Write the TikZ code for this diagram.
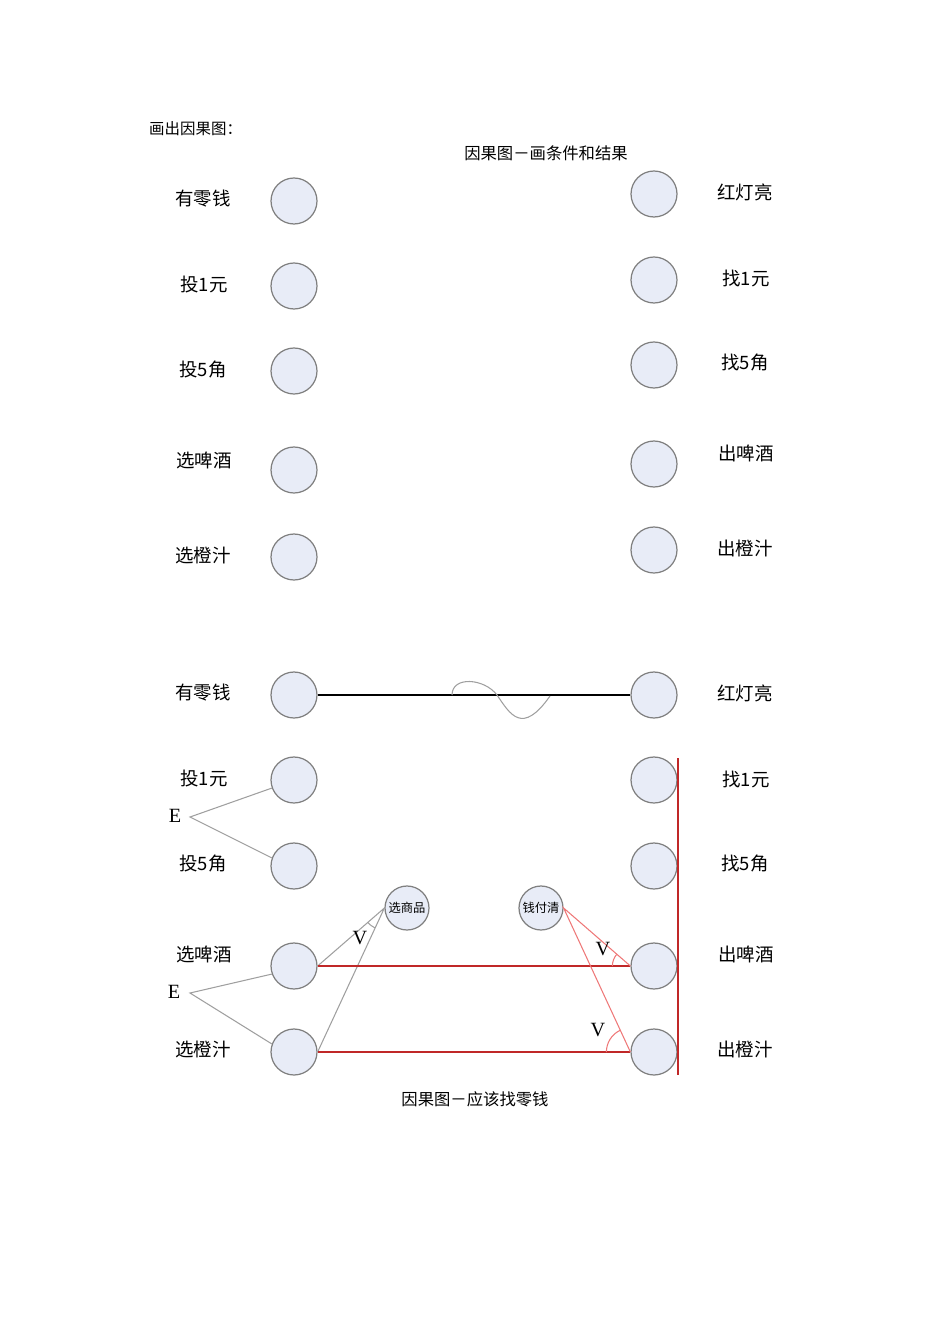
\documentclass[tikz,border=0pt]{standalone}
\usepackage{fontspec}
\setmainfont{Liberation Serif}
\newfontfamily\cjk{Noto Sans CJK SC}
\usetikzlibrary{positioning}
\usetikzlibrary{calc}

\definecolor{circfill}{RGB}{232,236,247}
\definecolor{circline}{RGB}{128,128,128}
\definecolor{darkred}{RGB}{192,40,40}
\definecolor{lightred}{RGB}{238,120,120}

\tikzset{
  cnode/.style={circle,draw=circline,fill=circfill,line width=0.7pt,minimum size=0.92cm,inner sep=0pt},
  snode/.style={circle,draw=circline,fill=circfill,line width=0.7pt,minimum size=0.88cm,inner sep=0pt,font=\cjk\fontsize{7}{8}\selectfont},
  lbl/.style={font=\cjk\fontsize{10.5}{12}\selectfont},
  captext/.style={font=\cjk\fontsize{9.3}{11}\selectfont},
  sym/.style={font=\fontsize{11.5}{13}\selectfont},
  grayline/.style={draw=gray!75,line width=0.6pt},
}

\begin{document}
\begin{tikzpicture}[x=0.02cm,y=0.02cm]
\useasboundingbox (0,0) rectangle (950,-1344);

\node[font=\cjk\fontsize{8.8}{10}\selectfont,anchor=west] (title) at (143,-129) {画出因果图：};
\node[captext] (cap1) at (546,-153) {因果图－画条件和结果};

% upper picture: causes and effects only
\node[cnode] (a1) at (294,-201) {};
\node[cnode] (a2) at (294,-286) {};
\node[cnode] (a3) at (294,-371) {};
\node[cnode] (a4) at (294,-470) {};
\node[cnode] (a5) at (294,-557) {};
\node[lbl] at (203,-199) {有零钱};
\node[lbl] at (204,-285) {投1元};
\node[lbl] at (203,-370) {投5角};
\node[lbl] at (204,-460) {选啤酒};
\node[lbl] at (203,-555) {选橙汁};

\node[cnode] (b1) at (654,-194) {};
\node[cnode] (b2) at (654,-280) {};
\node[cnode] (b3) at (654,-365) {};
\node[cnode] (b4) at (654,-464) {};
\node[cnode] (b5) at (654,-550) {};
\node[lbl] at (745,-192) {红灯亮};
\node[lbl] at (746,-278) {找1元};
\node[lbl] at (745,-363) {找5角};
\node[lbl] at (746,-453) {出啤酒};
\node[lbl] at (745,-548) {出橙汁};

% lower picture: with relations
\node[cnode] (c1) at (294,-695) {};
\node[cnode] (c2) at (294,-780) {};
\node[cnode] (c3) at (294,-866) {};
\node[cnode] (c4) at (294,-966) {};
\node[cnode] (c5) at (294,-1052) {};
\node[lbl] at (203,-693) {有零钱};
\node[lbl] at (204,-779) {投1元};
\node[lbl] at (203,-864) {投5角};
\node[lbl] at (204,-954) {选啤酒};
\node[lbl] at (203,-1049) {选橙汁};

\node[cnode] (e1) at (654,-695) {};
\node[cnode] (e2) at (654,-780) {};
\node[cnode] (e3) at (654,-866) {};
\node[cnode] (e4) at (654,-966) {};
\node[cnode] (e5) at (654,-1052) {};
\node[lbl] at (745,-693) {红灯亮};
\node[lbl] at (746,-779) {找1元};
\node[lbl] at (745,-864) {找5角};
\node[lbl] at (746,-954) {出啤酒};
\node[lbl] at (745,-1049) {出橙汁};

\node[snode] (mid1) at (407,-908) {选商品};
\node[snode] (mid2) at (541,-908) {钱付清};

% identity with the wave
\draw[line width=0.6pt] (c1) -- (e1);
\draw[grayline] (452,-695) .. controls (452,-676) and (484,-678) .. (497,-695)
  .. controls (510,-714) and (522,-736) .. (550,-696);

% E constraints
\coordinate (ex1) at (190,-817);
\coordinate (ex2) at (190,-993);
\node[sym] at (175,-816) {E};
\node[sym] at (174,-992) {E};
\draw[grayline] (c2.200) -- (ex1) -- (c3.160);
\draw[grayline] (c4.200) -- (ex2) -- (c5.160);

% or into the middle node
\draw[grayline] (c4.east) -- (mid1.west) -- (c5.east);
\draw[grayline] ([shift={(220:22)}]mid1.west) arc (220:244:22);
\node[sym] at (360,-938) {V};

% effects
\draw[darkred,line width=0.7pt] (c4.east) -- (e4.west);
\draw[darkred,line width=0.7pt] (c5.east) -- (e5.west);
\draw[lightred,line width=0.6pt] (e4.west) -- (mid2.east) -- (e5.west);
\draw[lightred,line width=0.6pt] ([shift={(140:18)}]e4.west) arc (140:180:18);
\draw[lightred,line width=0.6pt] ([shift={(116:24)}]e5.west) arc (116:180:24);
\node[sym] at (603,-949) {V};
\node[sym] at (598,-1030) {V};

\coordinate (rtop) at (678,-758);
\coordinate (rbot) at (678,-1075);
\draw[darkred,line width=0.7pt] (rtop) -- (rbot);

\node[captext] (cap2) at (475,-1099) {因果图－应该找零钱};
\end{tikzpicture}
\end{document}
